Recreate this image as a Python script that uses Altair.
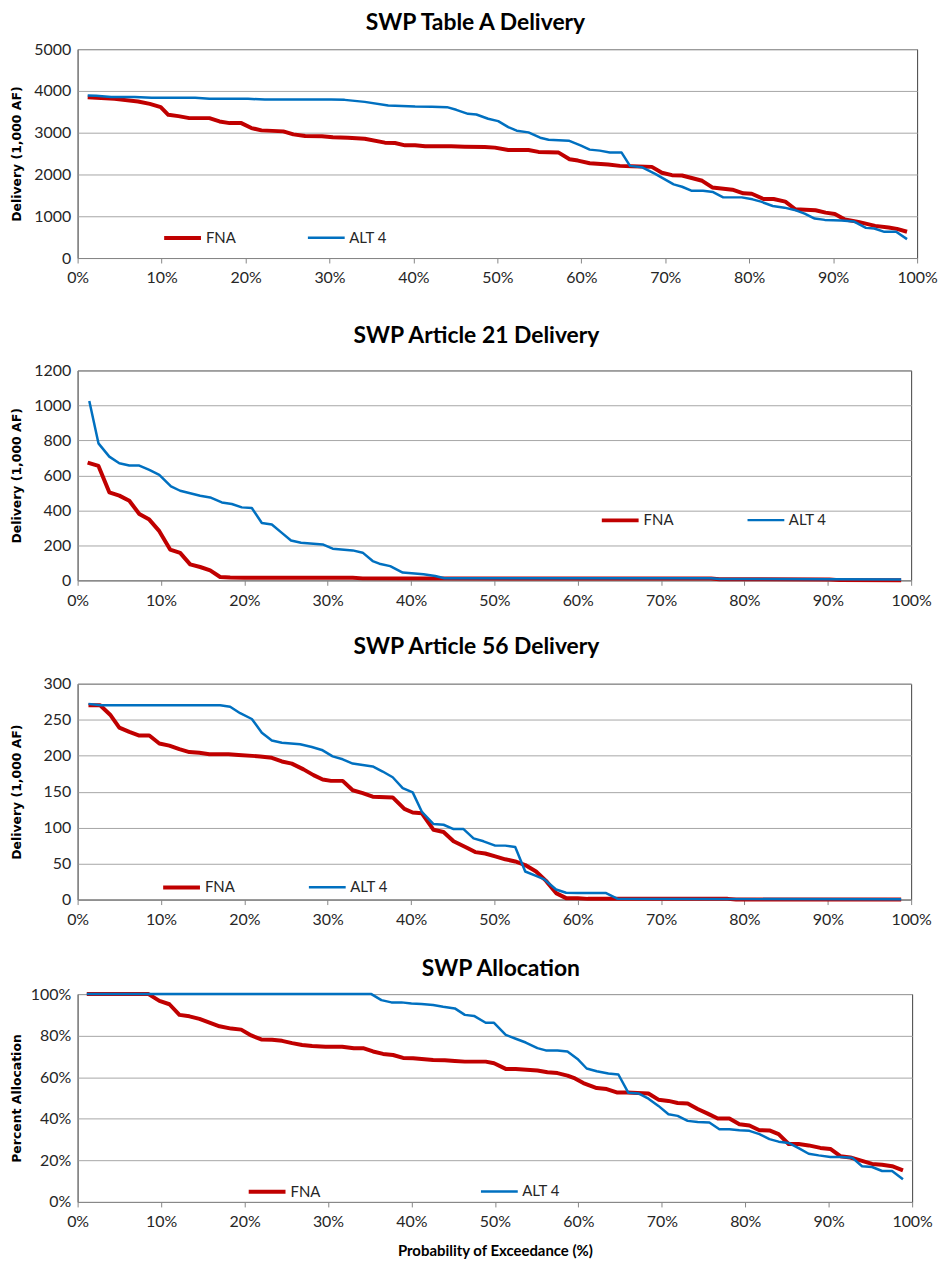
import altair as alt
import pandas as pd

SERIES = ["FNA", "ALT 4"]
COLORS = ["#C00000", "#0070C0"]
WIDTHS = [4, 2.5]

# ---------------- Panel 1: SWP Table A Delivery (1,000 AF) ----------------
ta_fna_x = [1.2, 4.4, 7.2, 8.6, 9.9, 10.8, 12.0, 13.3, 15.7, 16.9, 18.1, 19.5, 20.7, 21.9, 24.5,
            25.7, 27.1, 29.1, 30.4, 32.2, 34.2, 36.6, 37.8, 39.0, 40.2, 41.4, 44.5, 46.1, 48.5, 49.7,
            51.3, 53.7, 54.9, 57.3, 58.6, 59.6, 61.0, 63.2, 64.6, 66.0, 68.4, 69.6, 70.8, 72.0, 74.4,
            75.6, 78.0, 79.3, 80.3, 81.7, 82.9, 84.3, 85.5, 87.9, 89.1, 90.2, 91.4, 93.0, 95.0, 96.6,
            97.6, 98.8]
ta_fna_y = [3850, 3810, 3746, 3690, 3611, 3428, 3397, 3349, 3349, 3270, 3230, 3230, 3111, 3056, 3032,
            2960, 2921, 2913, 2889, 2881, 2857, 2762, 2754, 2698, 2698, 2675, 2675, 2665, 2659, 2643,
            2587, 2587, 2540, 2524, 2365, 2333, 2270, 2238, 2206, 2198, 2182, 2040, 1984, 1976, 1849,
            1690, 1635, 1548, 1540, 1413, 1413, 1349, 1167, 1143, 1087, 1056, 921, 865, 770, 730,
            698, 630]
ta_alt_x = [1.2, 2.2, 4.0, 6.8, 8.8, 14.0, 15.7, 20.3, 22.3, 30.2, 31.8, 34.2, 37.0, 38.6, 40.2,
            42.2, 44.0, 45.1, 46.5, 47.5, 48.9, 50.1, 51.3, 52.3, 53.7, 55.1, 56.1, 58.5, 59.9, 61.0,
            62.2, 63.4, 64.8, 65.8, 67.2, 68.8, 71.0, 72.0, 73.1, 74.5, 75.7, 76.9, 79.1, 80.4, 81.4,
            82.8, 84.2, 85.4, 86.6, 87.8, 89.0, 91.0, 92.5, 93.9, 94.9, 96.1, 97.5, 98.8]
ta_alt_y = [3890, 3885, 3855, 3855, 3834, 3834, 3810, 3810, 3795, 3795, 3786, 3738, 3650, 3640, 3625,
            3619, 3611, 3548, 3452, 3436, 3333, 3278, 3135, 3048, 3008, 2881, 2833, 2810, 2698, 2595,
            2571, 2524, 2524, 2206, 2175, 2016, 1762, 1706, 1611, 1611, 1579, 1452, 1452, 1405, 1349,
            1246, 1206, 1151, 1063, 944, 913, 897, 873, 722, 706, 627, 627, 452]

# ---------------- Panel 2: SWP Article 21 Delivery ----------------
a21_fna_x = [1.2, 2.5, 3.8, 5.0, 6.2, 7.4, 8.6, 9.8, 11.1, 12.3, 13.5, 14.7, 15.9, 17.1, 18.3,
             20.0, 33.0, 34.2, 76.0, 77.0, 90.2, 91.4, 98.8]
a21_fna_y = [673, 654, 503, 484, 455, 379, 347, 281, 176, 157, 91, 76, 57, 19, 16,
             15, 15, 11, 10, 6, 5, 1, 0.5]
a21_alt_x = [1.4, 2.5, 3.8, 5.0, 6.2, 7.4, 8.6, 9.8, 11.2, 12.3, 13.5, 14.7, 15.9, 17.3, 18.5,
             19.7, 20.9, 22.1, 23.3, 24.5, 25.6, 26.8, 29.4, 30.6, 33.0, 34.2, 35.4, 36.2, 37.5, 39.0,
             41.5, 42.9, 44.0, 76.0, 77.0, 98.8]
a21_alt_y = [1025, 783, 707, 669, 656, 656, 631, 603, 537, 512, 498, 483, 474, 445, 436,
             417, 413, 328, 319, 271, 228, 215, 205, 181, 171, 158, 110, 95, 81, 44,
             34, 25, 12, 12, 8, 5]

# ---------------- Panel 3: SWP Article 56 Delivery ----------------
a56_fna_x = [1.3, 2.7, 3.9, 5.0, 6.2, 7.4, 8.6, 9.8, 11.0, 12.2, 13.4, 14.6, 15.8, 18.1, 19.3,
             21.9, 23.3, 24.5, 25.7, 27.1, 28.3, 29.4, 30.4, 31.8, 33.0, 34.2, 35.4, 37.8, 39.2, 40.2,
             41.3, 42.7, 43.9, 45.1, 46.7, 47.7, 48.9, 50.1, 51.3, 52.5, 53.7, 55.0, 56.2, 57.4, 58.6,
             60.0, 61.2, 78.0, 79.0, 98.8]
a56_fna_y = [270, 270, 257, 239, 233, 228, 228, 217, 214, 209, 205, 204, 202, 202, 201,
             199, 197, 192, 189, 181, 173, 167, 165, 165, 152, 148, 143, 142, 126, 121,
             120, 97, 94, 81, 72, 66, 64, 60, 56, 53, 48, 39, 26, 9, 2,
             2, 1, 1, 0, 0]
a56_alt_x = [1.3, 2.8, 17.1, 18.3, 19.5, 20.9, 22.1, 23.3, 24.5, 26.7, 28.1, 29.3, 30.6, 31.8, 33.0,
             34.2, 35.4, 36.6, 37.8, 39.0, 40.2, 41.3, 42.7, 43.9, 45.1, 46.3, 47.5, 48.7, 50.1, 51.3,
             52.5, 53.7, 55.0, 56.0, 57.4, 58.6, 60.0, 63.4, 64.8, 98.8]
a56_alt_y = [272, 270, 270, 268, 259, 251, 232, 221, 218, 216, 212, 208, 199, 195, 189,
             187, 185, 178, 170, 155, 149, 122, 105, 104, 98, 98, 85, 81, 75, 75,
             73, 39, 33, 28, 14, 9.5, 9, 9, 1, 0.3]

# ---------------- Panel 4: SWP Allocation (%) ----------------
al_fna_x = [1.1, 8.5, 9.8, 11.0, 12.2, 13.4, 14.6, 15.8, 17.0, 18.4, 19.6, 20.8, 22.0, 23.3, 24.5,
            25.7, 26.9, 28.1, 29.7, 31.7, 33.1, 34.3, 35.4, 36.6, 37.8, 39.0, 40.2, 42.6, 44.0, 45.2,
            46.4, 48.9, 49.9, 51.3, 52.5, 55.1, 56.3, 57.5, 58.7, 59.6, 60.6, 62.2, 63.4, 64.6, 65.8,
            68.4, 69.6, 70.8, 71.9, 73.1, 74.3, 75.5, 76.7, 78.1, 79.3, 80.5, 81.7, 82.9, 84.0, 85.2,
            86.4, 87.6, 89.0, 90.2, 91.4, 92.6, 94.0, 95.2, 96.4, 97.6, 98.9]
al_fna_y = [100, 100, 96.7, 95.1, 90.0, 89.3, 88.1, 86.3, 84.5, 83.4, 82.9, 80.1, 78.2, 78.0, 77.5,
            76.4, 75.5, 75.0, 74.7, 74.7, 73.9, 73.9, 72.4, 71.2, 70.7, 69.3, 69.1, 68.3, 68.2, 67.8,
            67.5, 67.5, 66.7, 64.0, 64.0, 63.2, 62.4, 62.0, 60.8, 59.4, 57.2, 54.8, 54.3, 52.7, 52.7,
            52.2, 49.2, 48.6, 47.6, 47.4, 44.7, 42.5, 40.1, 40.1, 37.4, 36.8, 34.5, 34.4, 32.6, 27.9,
            27.9, 27.2, 26.0, 25.5, 22.0, 21.4, 19.8, 18.3, 17.9, 17.2, 15.2]
al_alt_x = [1.1, 35.2, 36.4, 37.6, 38.8, 40.0, 41.2, 42.6, 43.8, 45.2, 46.4, 47.5, 48.9, 49.9, 51.3,
            52.5, 53.7, 55.1, 56.1, 57.5, 58.7, 59.9, 61.0, 62.2, 63.6, 64.8, 66.0, 67.2, 68.4, 69.6,
            70.8, 71.9, 73.1, 74.3, 75.7, 76.9, 78.1, 79.3, 80.5, 81.7, 82.9, 84.0, 85.2, 86.4, 87.6,
            88.8, 90.2, 91.4, 92.8, 94.0, 95.2, 96.4, 97.6, 98.9]
al_alt_y = [100, 100, 97.1, 96.0, 96.0, 95.5, 95.2, 94.7, 93.9, 93.1, 90.0, 89.5, 86.2, 86.2, 80.4,
            78.5, 76.7, 74.0, 72.9, 72.9, 72.4, 68.8, 64.2, 62.9, 61.8, 61.3, 52.5, 52.2, 49.7, 46.2,
            42.2, 41.4, 39.0, 38.5, 38.2, 35.0, 35.0, 34.5, 34.2, 32.6, 30.2, 29.0, 28.4, 25.9, 23.2,
            22.4, 21.6, 21.6, 21.3, 17.2, 16.8, 14.9, 14.9, 10.9]

X_TICKS = list(range(0, 101, 10))
LABEL_FONT = "Lato"
TEXT_COLOR = "#262626"
GRID_COLOR = "#a6a6a6"
AXIS_COLOR = "#868686"
Y_EXTENT = 50


def panel(title, fx, fy, ax, ay, ymax, ystep, ytitle, width, height,
          x_extent, title_offset, title_dx, leg_x, leg_y, col_pad, y_label_expr=None,
          x_title=None, x_title_pad=0):
    df_f = pd.DataFrame({"x": fx, "y": fy, "series": SERIES[0]})
    df_a = pd.DataFrame({"x": ax, "y": ay, "series": SERIES[1]})

    leg = alt.Legend(title=None, orient="none", legendX=leg_x, legendY=leg_y,
                     direction="horizontal", symbolType="stroke", symbolSize=1369,
                     columnPadding=col_pad, labelFont=LABEL_FONT, labelFontSize=15,
                     labelColor=TEXT_COLOR, labelOffset=3, padding=0)
    color = alt.Color("series:N", scale=alt.Scale(domain=SERIES, range=COLORS), legend=leg)
    sw = alt.StrokeWidth("series:N", scale=alt.Scale(domain=SERIES, range=WIDTHS), legend=leg)

    y_vals = list(range(0, ymax + 1, ystep))
    y_axis_kw = dict(values=y_vals, grid=True, gridColor=GRID_COLOR, gridWidth=1, ticks=False,
                     domainColor=AXIS_COLOR, labelFont=LABEL_FONT, labelFontSize=16,
                     labelColor=TEXT_COLOR, labelPadding=7, title=ytitle,
                     titleFont="DejaVu Sans", titleFontSize=12.5, titleFontWeight="bold",
                     titleColor="#000000", titlePadding=4, minExtent=Y_EXTENT,
                     maxExtent=Y_EXTENT, labelFlush=False, labelOverlap=False)
    if y_label_expr:
        y_axis_kw["labelExpr"] = y_label_expr
    else:
        y_axis_kw["format"] = "d"
    x_axis_kw = dict(values=X_TICKS, grid=False, ticks=True, tickSize=5, tickColor=AXIS_COLOR,
                     domainColor=AXIS_COLOR, labelFont=LABEL_FONT, labelFontSize=16,
                     labelColor=TEXT_COLOR, labelPadding=7, labelExpr="datum.value + '%'",
                     labelFlush=False, labelOverlap=False, minExtent=x_extent,
                     maxExtent=x_extent, title=x_title)
    if x_title:
        x_axis_kw.update(titleFont=LABEL_FONT, titleFontSize=15, titleFontWeight="bold",
                         titleColor="#000000", titlePadding=x_title_pad)

    x = alt.X("x:Q", scale=alt.Scale(domain=[0, 100], nice=False), axis=alt.Axis(**x_axis_kw))
    y = alt.Y("y:Q", scale=alt.Scale(domain=[0, ymax], nice=False), axis=alt.Axis(**y_axis_kw))

    l1 = alt.Chart(df_f).mark_line(strokeJoin="round").encode(x=x, y=y, color=color, strokeWidth=sw)
    l2 = alt.Chart(df_a).mark_line(strokeJoin="round").encode(x=x, y=y, color=color, strokeWidth=sw)
    return alt.layer(l1, l2).properties(
        width=width, height=height,
        title=alt.TitleParams(title, font=LABEL_FONT, fontSize=23, fontWeight="bold",
                              color="#000000", anchor="middle", frame="group",
                              offset=title_offset, dx=title_dx),
    )


p1 = panel("SWP Table A Delivery", ta_fna_x, ta_fna_y, ta_alt_x, ta_alt_y, 5000, 1000,
           "Delivery (1,000 AF)", 844, 210, 65, 6, -22, 85, 169, 66)
p2 = panel("SWP Article 21 Delivery", a21_fna_x, a21_fna_y, a21_alt_x, a21_alt_y, 1200, 200,
           "Delivery (1,000 AF)", 838, 211, 54, 15, -18, 525, 130, 68)
p3 = panel("SWP Article 56 Delivery", a56_fna_x, a56_fna_y, a56_alt_x, a56_alt_y, 300, 50,
           "Delivery (1,000 AF)", 838, 217, 57, 17, -18, 84, 184, 68)
p4 = panel("SWP Allocation", al_fna_x, al_fna_y, al_alt_x, al_alt_y, 100, 20,
           "Percent Allocation", 839, 209, 30, 5, 6, 170, 178, 155,
           y_label_expr="datum.value + '%'", x_title="Probability of Exceedance (%)",
           x_title_pad=12)

chart = (
    alt.vconcat(p1, p2, p3, p4, spacing=0)
    .resolve_scale(color="independent", strokeWidth="independent", x="independent", y="independent")
    .resolve_legend(color="independent", strokeWidth="independent")
    .properties(padding={"left": 2, "top": 0, "right": 0, "bottom": 0}, background="white")
    .configure_view(stroke="#404040", strokeWidth=1)
)

chart.save("out.html", embed_options={"renderer": "svg", "actions": False})
